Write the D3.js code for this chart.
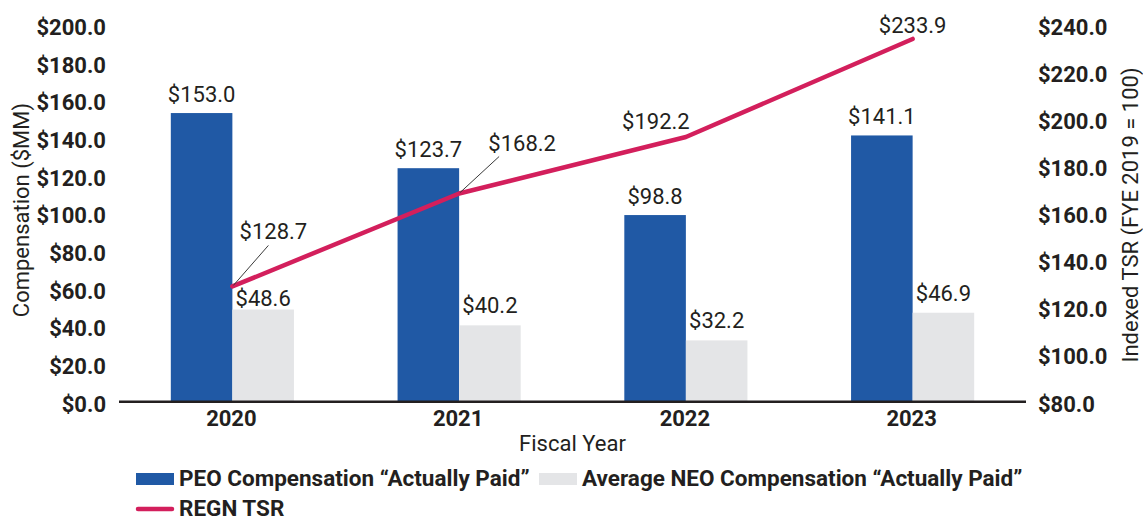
<!DOCTYPE html>
<html>
<head>
<meta charset="utf-8">
<script src="https://cdn.jsdelivr.net/npm/d3@7"></script>
<style>
  html, body { margin: 0; padding: 0; background: #ffffff; }
  svg { display: block; font-family: Roboto, "Noto Sans", sans-serif; }
</style>
</head>
<body>
<svg id="chart" width="1143" height="520"></svg>
<script>
// Fiscal years shown on the category axis
const years = ["2020", "2021", "2022", "2023"];
// PEO compensation actually paid ($MM)
const peoComp = [153.0, 123.7, 98.8, 141.1];
// Average NEO compensation actually paid ($MM)
const neoComp = [48.6, 40.2, 32.2, 46.9];
// Indexed total shareholder return (FYE 2019 = 100)
const regnTsr = [128.7, 168.2, 192.2, 233.9];
// Axis tick values
const leftTicks = [0, 20, 40, 60, 80, 100, 120, 140, 160, 180, 200];
const rightTicks = [80, 100, 120, 140, 160, 180, 200, 220, 240];
// Series names
const seriesNames = ["PEO Compensation \u201cActually Paid\u201d",
                     "Average NEO Compensation \u201cActually Paid\u201d",
                     "REGN TSR"];

// Label placement for the TSR values: offset from the point and leader-line end
const tsrLabelLayout = [
  { dx: 41, dy: -47, leader: [36, -41] },
  { dx: 63, dy: -43, leader: [40, -37] },
  { dx: -30, dy: -8, leader: null },
  { dx: 0, dy: -6, leader: null }
];

const colors = { peo: "#2059a5", neo: "#e4e5e7", tsr: "#d31f5c", text: "#231f20" };
const fmt = v => "$" + d3.format(".1f")(v);
const FS = "22px";

const svg = d3.select("#chart");
const plot = { left: 119, right: 1026, top: 24.6, bottom: 401 };

const x0 = d3.scaleBand()
  .domain(years)
  .range([plot.left, plot.right])
  .paddingInner(0.457)
  .paddingOuter(0.2285);
const x1 = d3.scaleBand()
  .domain(["peo", "neo"])
  .range([0, x0.bandwidth()]);
const yLeft = d3.scaleLinear().domain([0, 200]).range([plot.bottom, plot.top]);
const yRight = d3.scaleLinear().domain([80, 240]).range([plot.bottom, plot.top]);

// Left axis labels
const leftAxis = svg.append("g")
  .attr("transform", `translate(106,0)`)
  .call(d3.axisLeft(yLeft).tickValues(leftTicks).tickSize(0).tickPadding(0).tickFormat(fmt));
leftAxis.select(".domain").remove();
leftAxis.selectAll("text")
  .attr("x", 0).attr("dy", null).attr("y", 10)
  .attr("text-anchor", "end")
  .style("font-size", FS).style("font-weight", "bold")
  .attr("fill", colors.text).style("font-family", "Roboto");

// Right axis labels
const rightAxis = svg.append("g")
  .attr("transform", `translate(1038,0)`)
  .call(d3.axisRight(yRight).tickValues(rightTicks).tickSize(0).tickPadding(0).tickFormat(fmt));
rightAxis.select(".domain").remove();
rightAxis.selectAll("text")
  .attr("x", 0).attr("dy", null).attr("y", 10)
  .attr("text-anchor", "start")
  .style("font-size", FS).style("font-weight", "bold")
  .attr("fill", colors.text).style("font-family", "Roboto");

// Bars
const groups = svg.append("g").selectAll("g")
  .data(years)
  .join("g")
  .attr("transform", d => `translate(${x0(d)},0)`);

groups.append("rect")
  .attr("x", x1("peo"))
  .attr("width", x1.bandwidth())
  .attr("y", (d, i) => yLeft(peoComp[i]))
  .attr("height", (d, i) => yLeft(0) - yLeft(peoComp[i]))
  .attr("fill", colors.peo);

groups.append("rect")
  .attr("x", x1("neo"))
  .attr("width", x1.bandwidth())
  .attr("y", (d, i) => yLeft(neoComp[i]))
  .attr("height", (d, i) => yLeft(0) - yLeft(neoComp[i]))
  .attr("fill", colors.neo);

// Bar value labels
const valueStyle = sel => sel
  .attr("text-anchor", "middle")
  .attr("fill", colors.text)
  .style("font-size", FS);

groups.append("text")
  .attr("x", x1("peo") + x1.bandwidth() / 2)
  .attr("y", (d, i) => yLeft(peoComp[i]) - 11.5)
  .text((d, i) => fmt(peoComp[i]))
  .call(valueStyle);

groups.append("text")
  .attr("x", x1("neo") + x1.bandwidth() / 2)
  .attr("y", (d, i) => yLeft(neoComp[i]) - (i === 0 ? 4 : 12))
  .text((d, i) => fmt(neoComp[i]))
  .call(valueStyle);

// Baseline
svg.append("line")
  .attr("x1", plot.left).attr("x2", plot.right)
  .attr("y1", 401.7).attr("y2", 401.7)
  .attr("stroke", colors.text).attr("stroke-width", 2.5);

// Category labels
svg.append("g").selectAll("text")
  .data(years)
  .join("text")
  .attr("x", d => x0(d) + x0.bandwidth() / 2 - 1)
  .attr("y", 425.7)
  .attr("text-anchor", "middle")
  .attr("fill", colors.text)
  .style("font-size", FS).style("font-weight", "bold")
  .text(d => d);

// TSR line
const tsrX = i => x0(years[i]) + x0.bandwidth() / 2;
const line = d3.line()
  .x((d, i) => tsrX(i))
  .y(d => yRight(d));

svg.append("path")
  .datum(regnTsr)
  .attr("d", line)
  .attr("fill", "none")
  .attr("stroke", colors.tsr)
  .attr("stroke-width", 4.5)
  .attr("stroke-linecap", "round")
  .attr("stroke-linejoin", "round");

// TSR leader lines and labels
regnTsr.forEach((v, i) => {
  const px = tsrX(i), py = yRight(v), lay = tsrLabelLayout[i];
  if (lay.leader) {
    svg.append("line")
      .attr("x1", px + 1).attr("y1", py - 1)
      .attr("x2", px + lay.leader[0]).attr("y2", py + lay.leader[1])
      .attr("stroke", "#3a3a3a").attr("stroke-width", 1);
  }
  svg.append("text")
    .attr("x", px + lay.dx)
    .attr("y", py + lay.dy)
    .text(fmt(v))
    .call(valueStyle);
});

// Axis titles
svg.append("text")
  .attr("transform", "translate(29,210) rotate(-90)")
  .attr("text-anchor", "middle")
  .attr("fill", colors.text)
  .style("font-size", FS)
  .text("Compensation ($MM)");

svg.append("text")
  .attr("transform", "translate(1138,215) rotate(-90)")
  .attr("text-anchor", "middle")
  .attr("fill", colors.text)
  .style("font-size", FS)
  .text("Indexed TSR (FYE 2019 = 100)");

svg.append("text")
  .attr("x", (plot.left + plot.right) / 2)
  .attr("y", 451)
  .attr("text-anchor", "middle")
  .attr("fill", colors.text)
  .style("font-size", FS)
  .text("Fiscal Year");

// Legend
const legend = svg.append("g");
const legendItems = [
  { name: seriesNames[0], kind: "rect", color: colors.peo, x: 136, y: 486 },
  { name: seriesNames[1], kind: "rect", color: colors.neo, x: 539, y: 486 },
  { name: seriesNames[2], kind: "line", color: colors.tsr, x: 136, y: 516 }
];
legendItems.forEach(it => {
  if (it.kind === "rect") {
    legend.append("rect")
      .attr("x", it.x).attr("y", it.y - 13)
      .attr("width", 38).attr("height", 12)
      .attr("fill", it.color);
  } else {
    legend.append("line")
      .attr("x1", it.x + 2).attr("x2", it.x + 36)
      .attr("y1", it.y - 7).attr("y2", it.y - 7)
      .attr("stroke", it.color).attr("stroke-width", 4.5)
      .attr("stroke-linecap", "round");
  }
  legend.append("text")
    .attr("x", it.x + 43)
    .attr("y", it.y)
    .attr("fill", colors.text)
    .style("font-size", "22.5px").style("font-weight", "bold")
    .text(it.name);
});
</script>
</body>
</html>
